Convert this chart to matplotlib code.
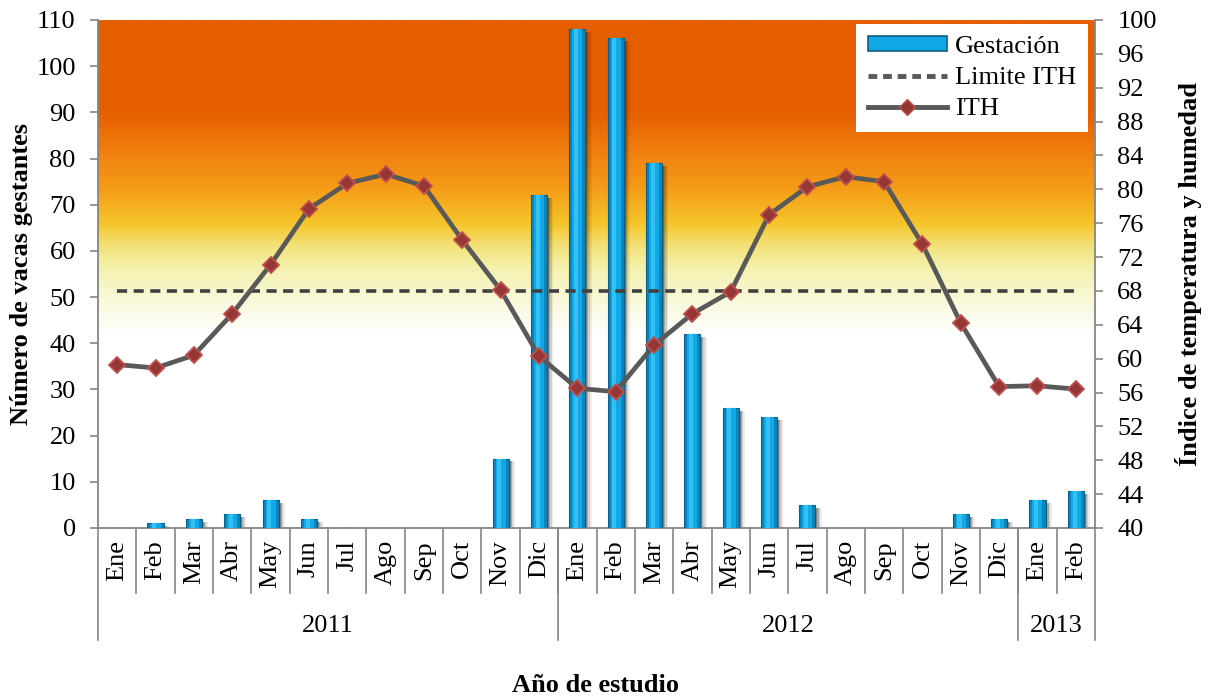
import numpy as np
import matplotlib
matplotlib.use("Agg")
import matplotlib.pyplot as plt
from matplotlib.colors import LinearSegmentedColormap
from matplotlib.lines import Line2D
from matplotlib.patches import Patch

months = ["Ene", "Feb", "Mar", "Abr", "May", "Jun", "Jul", "Ago", "Sep", "Oct", "Nov", "Dic",
          "Ene", "Feb", "Mar", "Abr", "May", "Jun", "Jul", "Ago", "Sep", "Oct", "Nov", "Dic",
          "Ene", "Feb"]
years = ["2011", "2012", "2013"]
year_counts = [12, 12, 2]
gestacion = [0, 1, 2, 3, 6, 2, 0, 0, 0, 0, 15, 72,
             108, 106, 79, 42, 26, 24, 5, 0, 0, 0, 3, 2,
             6, 8]
ith = [59.3, 58.9, 60.4, 65.3, 71.1, 77.7, 80.7, 81.8, 80.4, 74.0, 68.1, 60.3,
       56.5, 56.1, 61.6, 65.3, 67.9, 77.0, 80.3, 81.5, 80.9, 73.5, 64.2, 56.7,
       56.8, 56.4]
limite_ith = 68

plt.rcParams['font.family'] = ['Liberation Serif', 'DejaVu Serif']
FS = 19

fig = plt.figure(figsize=(12.1, 6.98), dpi=100)
W, H = 1210, 698
L, R, T, B = 98, 1095, 20, 528
ax = fig.add_axes([L / W, 1 - B / H, (R - L) / W, (B - T) / H])
ax2 = ax.twinx()

n = len(months)
x = np.arange(n)
ax.set_xlim(-0.5, n - 0.5)
ax.set_ylim(0, 110)
ax2.set_ylim(40, 100)

# background gradient (by left-axis value)
stops = [(0.0, "#FFFFFF"), (42 / 110, "#FFFFFF"), (49 / 110, "#F9F9DC"), (56 / 110, "#F4F2B0"),
         (61 / 110, "#F3E27A"), (66 / 110, "#F5C52A"), (74 / 110, "#F59A18"),
         (82 / 110, "#F07E0E"), (90 / 110, "#E65F00"), (1.0, "#E55E00")]
cmap = LinearSegmentedColormap.from_list("bg", stops)
grad = np.linspace(1, 0, 512).reshape(-1, 1)
ax.imshow(grad, cmap=cmap, vmin=0, vmax=1, extent=[-0.5, n - 0.5, 0, 110],
          aspect='auto', zorder=0, interpolation='bicubic')

# bars with shadow and bevel look
bw = 0.42
g = np.array(gestacion, dtype=float)
for dx, a in [(0.16, 0.08), (0.12, 0.14), (0.08, 0.22), (0.05, 0.3)]:
    ax.bar(x + dx, np.clip(g - 0.6, 0, None), width=bw, bottom=0, color="#202020", alpha=a,
           linewidth=0, zorder=2)
ax.bar(x, g, width=bw, color="#0A86BE", edgecolor="#0A5F86", linewidth=0.8, zorder=3)
ax.bar(x, g, width=bw * 0.62, color="#12A8E6", linewidth=0, zorder=4)
ax.bar(x - bw * 0.08, g, width=bw * 0.25, color="#33C0F4", linewidth=0, zorder=4)

# lines
ax2.plot(x, [limite_ith] * n, color="#404040", lw=2.6, dashes=(2.8, 1.8), zorder=5)
ax2.plot(x, ith, color="#595959", lw=3.4, marker="D", markersize=8,
         markerfacecolor="#953735", markeredgecolor="#C0504D", markeredgewidth=1.3, zorder=6)

# axes styling
gray = "#868686"
for a in (ax, ax2):
    for s in a.spines.values():
        s.set_visible(False)
for a, side in ((ax, 'left'), (ax, 'bottom'), (ax2, 'right')):
    a.spines[side].set_visible(True)
    a.spines[side].set_color(gray)
    a.spines[side].set_linewidth(1.3)

ax.set_yticks(np.arange(0, 111, 10))
ax.tick_params(axis='y', direction='out', length=6, width=1.2, color=gray, labelsize=FS, pad=10)
ax2.set_yticks(np.arange(40, 101, 4))
ax2.tick_params(axis='y', direction='out', length=6, width=1.2, color=gray, labelsize=FS, pad=10)
ax.set_xticks([])

tr = ax.get_xaxis_transform()
y_month = -(593 - B) / (B - T)
y_year = -(640 - B) / (B - T)
for i, m in enumerate(months):
    ax.text(i, (B - 540) / (B - T), m, rotation=90, ha='center', va='top',
            fontsize=FS, transform=tr)
for i in range(1, n):
    ax.plot([i - 0.5, i - 0.5], [0, y_month], color=gray, lw=1.2, transform=tr, clip_on=False)
start = 0
bounds = [-0.5]
for c in year_counts:
    start += c
    bounds.append(start - 0.5)
for b in bounds:
    ax.plot([b, b], [0, y_year], color=gray, lw=1.2, transform=tr, clip_on=False)
for j, yr in enumerate(years):
    ax.text((bounds[j] + bounds[j + 1]) / 2, (B - 626) / (B - T), yr, ha='center', va='center',
            fontsize=FS, transform=tr)

fig.text(596 / W, 1 - 685 / H, "Año de estudio", ha='center', va='center', fontsize=FS,
         fontweight='bold')
fig.text(22 / W, 1 - 274 / H, "Número de vacas gestantes", ha='center', va='center', fontsize=FS,
         fontweight='bold', rotation=90)
fig.text(1188 / W, 1 - 274 / H, "Índice de temperatura y humedad", ha='center', va='center',
         fontsize=FS, fontweight='bold', rotation=90)

handles = [Patch(facecolor="#12A8E6", edgecolor="#0A5F86", linewidth=1.2),
           Line2D([], [], color="#595959", lw=3.5, dashes=(1.8, 1.2)),
           Line2D([], [], color="#595959", lw=3.5, marker="D", markersize=8,
                  markerfacecolor="#953735", markeredgecolor="#C0504D")]
labels = ["Gestación", "Limite ITH", "ITH"]
leg = ax2.legend(handles, labels, loc='upper right',
                 bbox_to_anchor=((1088 - L) / (R - L), (B - 24) / (B - T)),
                 fontsize=FS, frameon=True, fancybox=False, framealpha=1, edgecolor='white',
                 handlelength=3.0, handleheight=0.5, labelspacing=0.35, borderpad=0.45,
                 handletextpad=0.3, borderaxespad=0)
leg.get_frame().set_linewidth(0)
leg.set_zorder(10)

fig.savefig("out.png", dpi=100)
